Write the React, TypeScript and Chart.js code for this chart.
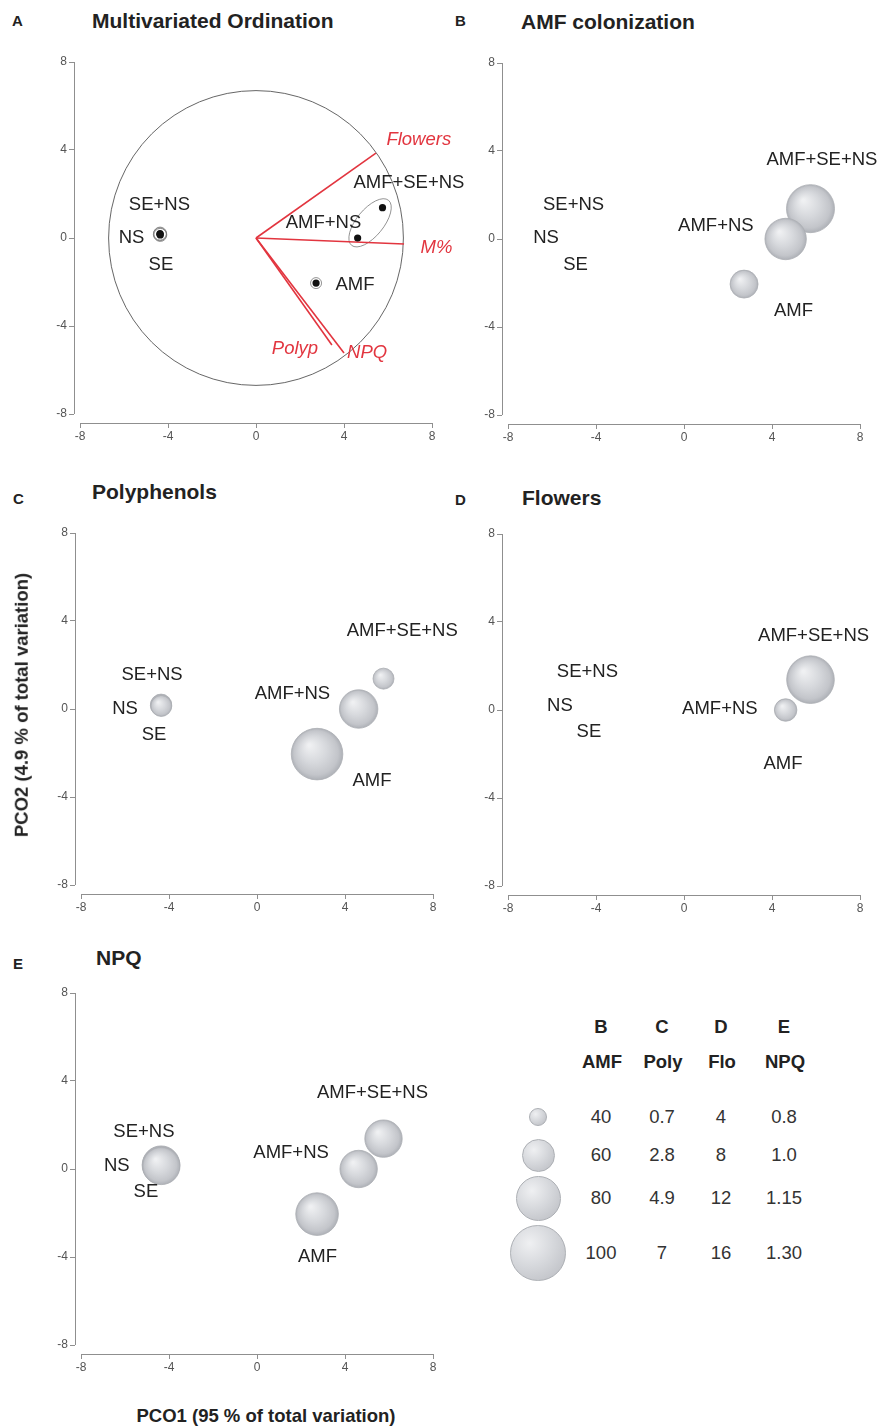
import React, { useEffect, useRef } from 'react';
import { Chart, registerables } from 'chart.js';

Chart.register(...registerables);

const FONT = '"Liberation Sans", Arial, Helvetica, sans-serif';

// ---------------- data ----------------
const TREATMENTS = ['AMF+SE+NS', 'AMF+NS', 'AMF', 'SE+NS', 'NS', 'SE'];
const PCO1 = [5.75, 4.62, 2.73, -4.36, -4.37, -4.35];
const PCO2 = [1.38, 0.0, -2.05, 0.2, 0.17, 0.14];
const AMF_COLONIZATION = [85.7, 74, 53.3, 0, 0, 0];
const POLYPHENOLS = [1.12, 3.75, 6.2, 1.12, 1.12, 1.12];
const FLOWERS = [13, 5.2, 0, 0, 0, 0];
const NPQ_VALUES = [1.055, 1.055, 1.12, 1.055, 1.055, 1.055];

const VECTOR_NAMES = ['Flowers', 'M%', 'Polyp', 'NPQ'];
const VECTOR_PCO1 = [5.45, 6.73, 3.45, 4.0];
const VECTOR_PCO2 = [3.86, -0.27, -4.86, -5.23];
const CORRELATION_RADIUS = 6.7;

const AXIS_TICKS = [-8, -4, 0, 4, 8];

const LEGEND_HEAD = ['B', 'C', 'D', 'E'];
const LEGEND_VARS = ['AMF', 'Poly', 'Flo', 'NPQ'];
const LEGEND_AMF = ['40', '60', '80', '100'];
const LEGEND_POLY = ['0.7', '2.8', '4.9', '7'];
const LEGEND_FLO = ['4', '8', '12', '16'];
const LEGEND_NPQ = ['0.8', '1.0', '1.15', '1.30'];

// ---------------- layout / style ----------------
const U = 22; // px per axis unit
const CW = 445;
const CH = 406;
const PAD_RIGHT = CW - 406;
const AXIS_COLOR = '#8f8f8f';
const RED = '#e2353f';
const SIZE_RANGE_PX = [9, 16.5, 22.5, 27.8];
const LABEL_FONT_SIZE = 18.5;

// label anchor positions (axis units), in TREATMENTS order
const LABELS_A = [[6.95, 2.5], [3.07, 0.68], [4.5, -2.14], [-4.39, 1.5], [-5.66, 0], [-4.32, -1.23]];
const LABELS_B = [[6.27, 3.6], [1.45, 0.6], [4.98, -3.27], [-5.02, 1.55], [-6.27, 0.05], [-4.93, -1.18]];
const LABELS_C = [[6.6, 3.55], [1.61, 0.68], [5.23, -3.27], [-4.77, 1.55], [-6.0, 0], [-4.68, -1.18]];
const LABELS_D = [[5.89, 3.36], [1.63, 0.05], [4.5, -2.45], [-4.39, 1.73], [-5.64, 0.18], [-4.32, -1.0]];
const LABELS_E = [[5.25, 3.45], [1.55, 0.73], [2.75, -4.0], [-5.14, 1.68], [-6.37, 0.14], [-5.05, -1.05]];
const VECTOR_LABELS = [[7.4, 4.45], [8.2, -0.45], [1.77, -5.05], [5.05, -5.22]];

function sizeScale(keys: number[], v: number): number {
  if (!(v > 0)) return 0;
  const px = SIZE_RANGE_PX;
  for (let i = 0; i < keys.length - 1; i++) {
    if (v <= keys[i + 1] || i === keys.length - 2) {
      const t = (v - keys[i]) / (keys[i + 1] - keys[i]);
      return Math.max(0, px[i] + t * (px[i + 1] - px[i]));
    }
  }
  return 0;
}

const SPHERE_FLAT = '#d0d2d6';

function sphereFill(c: any) {
  try {
    const chart = c.chart;
    const raw = c.raw;
    if (!raw || !chart || !chart.scales || !chart.scales.x || !chart.scales.y || !chart.chartArea) return SPHERE_FLAT;
    const x = chart.scales.x.getPixelForValue(raw.x);
    const y = chart.scales.y.getPixelForValue(raw.y);
    const r = Math.max(raw.r || 1, 1);
    if (!isFinite(x) || !isFinite(y) || !isFinite(r)) return SPHERE_FLAT;
    const g = chart.ctx.createRadialGradient(x - r * 0.3, y - r * 0.35, r * 0.05, x, y, r);
    g.addColorStop(0, '#eff0f2');
    g.addColorStop(0.5, '#d6d8dc');
    g.addColorStop(0.85, '#c3c5ca');
    g.addColorStop(1, '#aeb1b7');
    return g;
  } catch (e) {
    return SPHERE_FLAT;
  }
}

type Label = { text: string; x: number; y: number; color?: string; italic?: boolean };

function treatmentLabels(pos: number[][]): Label[] {
  return TREATMENTS.map((t, i) => ({ text: t, x: pos[i][0], y: pos[i][1] }));
}

function bubbleDataset(values: number[], keys: string[]) {
  const k = keys.map(Number);
  return {
    type: 'bubble',
    data: TREATMENTS.map((t, i) => ({ x: PCO1[i], y: PCO2[i], r: sizeScale(k, values[i]) })),
    backgroundColor: sphereFill,
    borderColor: '#acafb4',
    borderWidth: 0.8,
    hoverRadius: 0,
    clip: false,
  };
}

function buildPanel(kind: string): { datasets: any[]; labels: Label[]; ordination: boolean } {
  if (kind === 'A') {
    const datasets: any[] = [];
    datasets.push({
      type: 'scatter',
      data: TREATMENTS.map((t, i) => ({ x: PCO1[i], y: PCO2[i] })),
      backgroundColor: '#111',
      borderColor: '#111',
      pointRadius: 3.6,
      borderWidth: 0,
    });
    datasets.push({
      type: 'scatter',
      data: TREATMENTS.map((t, i) => ({ x: PCO1[i], y: PCO2[i] })),
      backgroundColor: 'rgba(0,0,0,0)',
      borderColor: '#777',
      pointRadius: [0, 0, 5.5, 6.5, 6.5, 6.5],
      borderWidth: 0.8,
    });
    VECTOR_NAMES.forEach((n, i) => {
      datasets.push({
        type: 'scatter',
        showLine: true,
        data: [{ x: 0, y: 0 }, { x: VECTOR_PCO1[i], y: VECTOR_PCO2[i] }],
        borderColor: RED,
        borderWidth: 1.6,
        pointRadius: 0,
      });
    });
    const labels = treatmentLabels(LABELS_A).concat(
      VECTOR_NAMES.map((n, i) => ({ text: n, x: VECTOR_LABELS[i][0], y: VECTOR_LABELS[i][1], color: RED, italic: true }))
    );
    return { datasets, labels, ordination: true };
  }
  if (kind === 'B') return { datasets: [bubbleDataset(AMF_COLONIZATION, LEGEND_AMF)], labels: treatmentLabels(LABELS_B), ordination: false };
  if (kind === 'C') return { datasets: [bubbleDataset(POLYPHENOLS, LEGEND_POLY)], labels: treatmentLabels(LABELS_C), ordination: false };
  if (kind === 'D') return { datasets: [bubbleDataset(FLOWERS, LEGEND_FLO)], labels: treatmentLabels(LABELS_D), ordination: false };
  return { datasets: [bubbleDataset(NPQ_VALUES, LEGEND_NPQ)], labels: treatmentLabels(LABELS_E), ordination: false };
}

function makePlugin(spec: { labels: Label[]; ordination: boolean }) {
  return {
    id: 'panelExtras',
    beforeDatasetsDraw(chart: any) {
      const ctx = chart.ctx;
      const xs = chart.scales.x;
      const ys = chart.scales.y;
      const a = chart.chartArea;
      ctx.save();
      ctx.strokeStyle = AXIS_COLOR;
      ctx.lineWidth = 1;
      ctx.beginPath();
      const lx = Math.round(a.left) + 0.5;
      const by = Math.round(a.bottom) + 0.5;
      ctx.moveTo(lx, ys.getPixelForValue(8));
      ctx.lineTo(lx, ys.getPixelForValue(-8));
      ctx.moveTo(xs.getPixelForValue(-8), by);
      ctx.lineTo(xs.getPixelForValue(8), by);
      ctx.stroke();
      if (spec.ordination) {
        const cx = xs.getPixelForValue(0);
        const cy = ys.getPixelForValue(0);
        const rr = xs.getPixelForValue(CORRELATION_RADIUS) - cx;
        ctx.strokeStyle = '#555';
        ctx.lineWidth = 0.9;
        ctx.beginPath();
        ctx.arc(cx, cy, rr, 0, Math.PI * 2);
        ctx.stroke();
        // dispersion ellipse around AMF+NS and AMF+SE+NS
        const p1x = xs.getPixelForValue(PCO1[0]);
        const p1y = ys.getPixelForValue(PCO2[0]);
        const p2x = xs.getPixelForValue(PCO1[1]);
        const p2y = ys.getPixelForValue(PCO2[1]);
        const mx = (p1x + p2x) / 2;
        const my = (p1y + p2y) / 2;
        const half = Math.hypot(p1x - p2x, p1y - p2y) / 2;
        const ang = Math.atan2(p1y - p2y, p1x - p2x);
        ctx.strokeStyle = '#777';
        ctx.lineWidth = 0.8;
        ctx.beginPath();
        ctx.ellipse(mx, my, half + 9.5, 13.5, ang, 0, Math.PI * 2);
        ctx.stroke();
      }
      ctx.restore();
    },
    afterDatasetsDraw(chart: any) {
      const ctx = chart.ctx;
      const xs = chart.scales.x;
      const ys = chart.scales.y;
      ctx.save();
      ctx.textAlign = 'center';
      ctx.textBaseline = 'middle';
      spec.labels.forEach((l) => {
        ctx.font = `${l.italic ? 'italic ' : ''}${LABEL_FONT_SIZE}px ${FONT}`;
        ctx.fillStyle = l.color || '#222';
        ctx.fillText(l.text, xs.getPixelForValue(l.x), ys.getPixelForValue(l.y));
      });
      ctx.restore();
    },
  };
}

function Panel({ kind, left, top }: { kind: string; left: number; top: number }) {
  const ref = useRef<HTMLCanvasElement>(null);
  useEffect(() => {
    const spec = buildPanel(kind);
    const tickFont = { size: 12, family: FONT };
    const gridOpts = { drawOnChartArea: false, drawTicks: true, tickLength: 5, color: AXIS_COLOR, lineWidth: 1 };
    let chart: any = null;
    try {
      chart = new Chart(ref.current as HTMLCanvasElement, {
        type: 'scatter',
        data: { datasets: spec.datasets },
        options: {
          responsive: false,
          animation: false,
          events: [],
          layout: { padding: { top: 15, right: PAD_RIGHT, left: 0, bottom: 0 }, autoPadding: false } as any,
          plugins: { legend: { display: false }, tooltip: { enabled: false } },
          scales: {
            x: {
              type: 'linear',
              min: -8 - 6 / U,
              max: 8 + 4 / U,
              afterBuildTicks: (s: any) => { s.ticks = AXIS_TICKS.map((v) => ({ value: v })); },
              afterFit: (s: any) => { s.height = 30; },
              grid: gridOpts,
              border: { display: false },
              ticks: { color: '#555', font: tickFont, padding: 1, maxRotation: 0, autoSkip: false, callback: (v: any) => String(v) },
            },
            y: {
              type: 'linear',
              min: -8 - 9 / U,
              max: 8,
              afterBuildTicks: (s: any) => { s.ticks = AXIS_TICKS.map((v) => ({ value: v })); },
              afterFit: (s: any) => { s.width = 44; },
              grid: gridOpts,
              border: { display: false },
              ticks: { color: '#555', font: tickFont, padding: 2, autoSkip: false, callback: (v: any) => String(v) },
            },
          },
        } as any,
        plugins: [makePlugin(spec)],
      } as any);
    } catch (e) {
      console.error(e);
    }
    return () => { if (chart) chart.destroy(); };
  }, [kind]);
  return (
    <canvas
      ref={ref}
      width={CW}
      height={CH}
      style={{ position: 'absolute', left: left - 50, top: top - 15, width: CW, height: CH }}
    />
  );
}

function Txt({ x, y, children, size = 18, bold = false, italic = false, color = '#222', align = 'center', rotate = false }: any) {
  const tx = align === 'center' ? '-50%' : '0';
  return (
    <div
      style={{
        position: 'absolute',
        left: x,
        top: y,
        transform: `translate(${tx}, -50%)${rotate ? ' rotate(-90deg)' : ''}`,
        transformOrigin: rotate ? 'center' : undefined,
        fontSize: size,
        fontWeight: bold ? 700 : 400,
        fontStyle: italic ? 'italic' : 'normal',
        color,
        whiteSpace: 'nowrap',
        lineHeight: 1,
        fontFamily: FONT,
      }}
    >
      {children}
    </div>
  );
}

const LEG_COLS = [601, 662, 721, 784];
const LEG_ROWS = [1117, 1155, 1198, 1253];

function Legend() {
  const cols = [LEGEND_AMF, LEGEND_POLY, LEGEND_FLO, LEGEND_NPQ];
  return (
    <>
      {LEGEND_HEAD.map((h, i) => (
        <Txt key={'h' + i} x={LEG_COLS[i]} y={1027} bold size={18.5} color="#222">{h}</Txt>
      ))}
      {LEGEND_VARS.map((h, i) => (
        <Txt key={'v' + i} x={LEG_COLS[i] + 1} y={1062} bold size={18.5} color="#222">{h}</Txt>
      ))}
      {LEGEND_AMF.map((_, r) => {
        const rad = sizeScale(LEGEND_AMF.map(Number), Number(LEGEND_AMF[r]));
        return (
          <div
            key={'b' + r}
            style={{
              position: 'absolute',
              left: 538 - rad,
              top: LEG_ROWS[r] - rad,
              width: rad * 2,
              height: rad * 2,
              borderRadius: '50%',
              boxSizing: 'border-box',
              border: '0.8px solid #acafb4',
              background: 'radial-gradient(circle at 35% 32%, #eff0f2 0%, #d6d8dc 45%, #c3c5ca 80%, #aeb1b7 100%)',
            }}
          />
        );
      })}
      {cols.map((col, c) =>
        col.map((v, r) => (
          <Txt key={`c${c}r${r}`} x={LEG_COLS[c]} y={LEG_ROWS[r]} size={18.5} color="#333">{v}</Txt>
        ))
      )}
    </>
  );
}

export default function App() {
  return (
    <div style={{ position: 'fixed', left: 0, top: 0, width: 881, height: 1427, overflow: 'hidden', background: '#fff' }}>
      <Panel kind="A" left={80} top={62} />
      <Panel kind="B" left={508} top={63} />
      <Panel kind="C" left={81} top={533} />
      <Panel kind="D" left={508} top={534} />
      <Panel kind="E" left={81} top={993} />

      <Txt x={12} y={20} bold size={15} align="left">A</Txt>
      <Txt x={92} y={20} bold size={21} align="left">Multivariated Ordination</Txt>
      <Txt x={455} y={20} bold size={15} align="left">B</Txt>
      <Txt x={521} y={21} bold size={21} align="left">AMF colonization</Txt>
      <Txt x={13} y={498} bold size={15} align="left">C</Txt>
      <Txt x={92} y={491} bold size={21} align="left">Polyphenols</Txt>
      <Txt x={455} y={499} bold size={15} align="left">D</Txt>
      <Txt x={522} y={497} bold size={21} align="left">Flowers</Txt>
      <Txt x={13} y={963} bold size={15} align="left">E</Txt>
      <Txt x={96} y={957} bold size={21} align="left">NPQ</Txt>

      <Txt x={22} y={705} bold size={18.5} rotate>PCO2 (4.9 % of total variation)</Txt>
      <Txt x={266} y={1416} bold size={18.5}>PCO1 (95 % of total variation)</Txt>

      <Legend />
    </div>
  );
}
